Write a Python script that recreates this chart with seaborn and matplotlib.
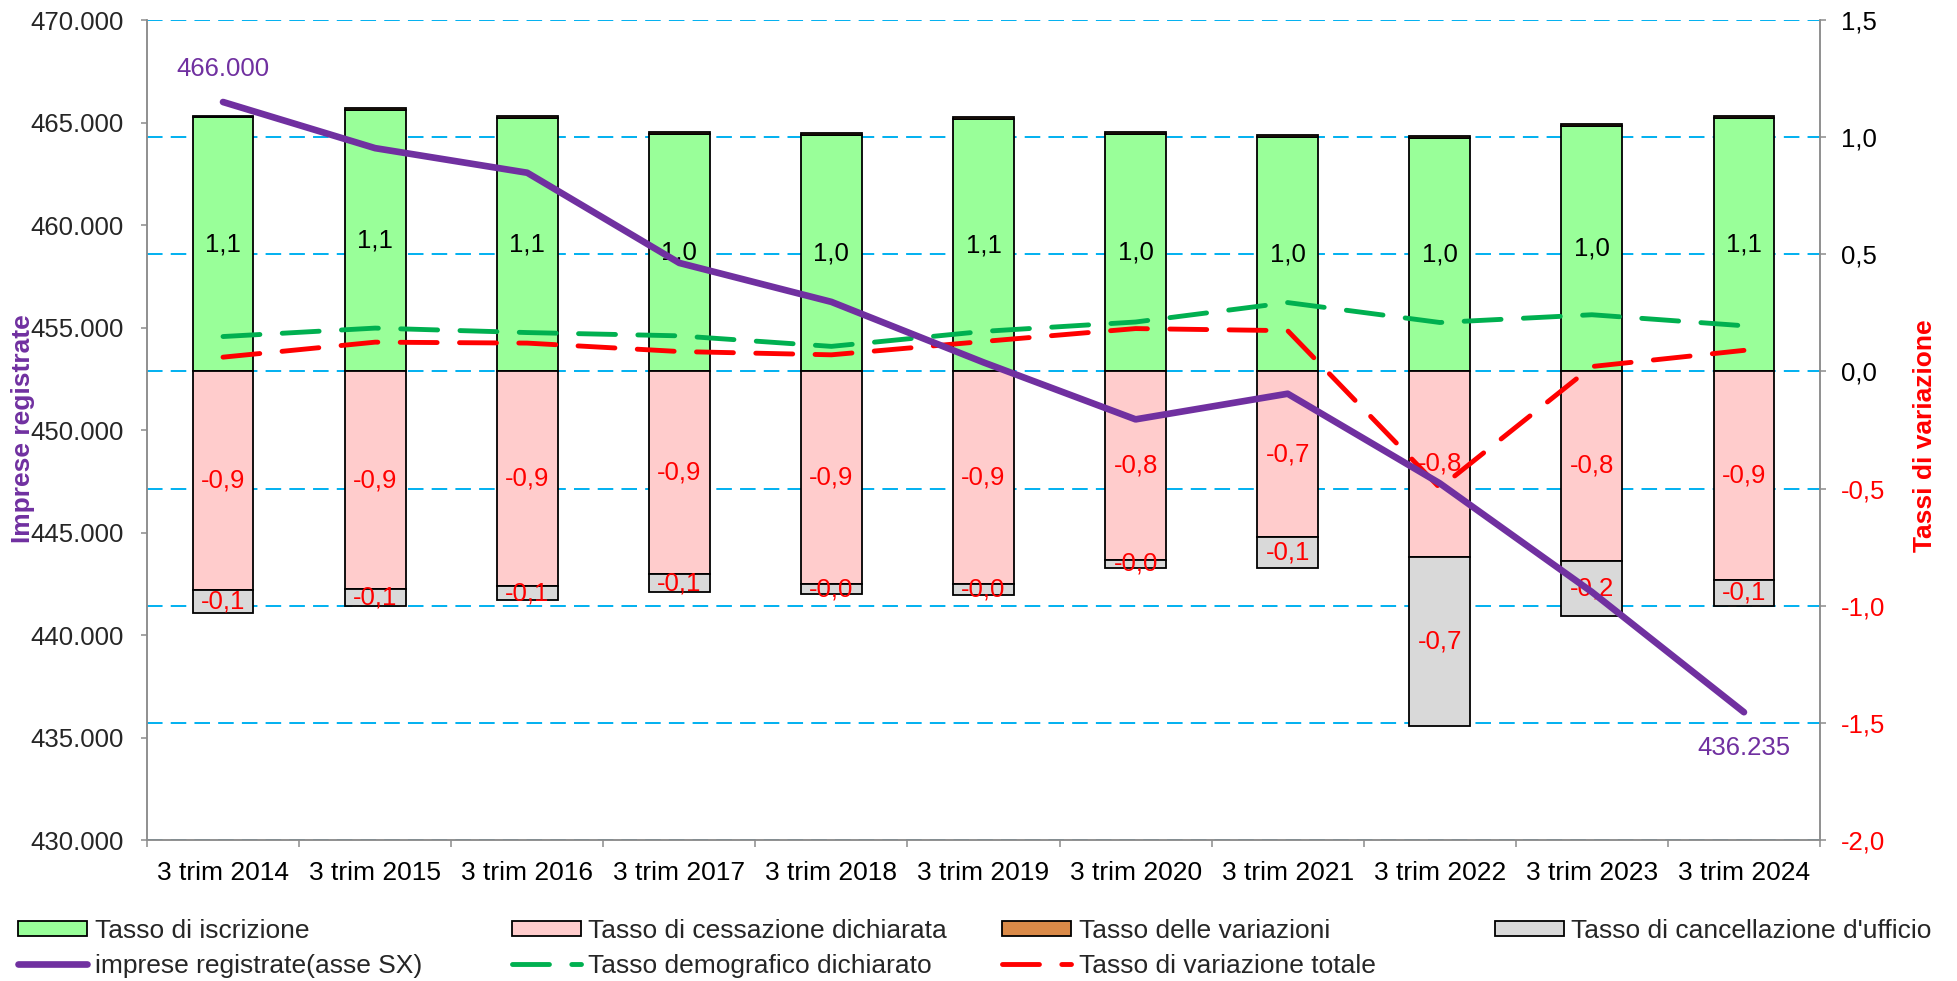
import numpy as np
import pandas as pd
import matplotlib.pyplot as plt
from matplotlib.patches import Patch
from matplotlib.lines import Line2D
import seaborn as sns

# dati
periodi = ["3 trim 2014", "3 trim 2015", "3 trim 2016", "3 trim 2017", "3 trim 2018",
           "3 trim 2019", "3 trim 2020", "3 trim 2021", "3 trim 2022", "3 trim 2023",
           "3 trim 2024"]
tasso_iscrizione = [1.084, 1.115, 1.081, 1.015, 1.009, 1.077, 1.013, 0.999, 0.995, 1.046, 1.080]
tasso_variazioni = [0.007, 0.009, 0.009, 0.007, 0.008, 0.009, 0.007, 0.009, 0.008, 0.010, 0.012]
tasso_cessazione = [-0.931, -0.927, -0.917, -0.865, -0.908, -0.908, -0.804, -0.708, -0.790, -0.807, -0.891]
tasso_cancellazione = [-0.098, -0.075, -0.058, -0.078, -0.044, -0.048, -0.035, -0.131, -0.725, -0.236, -0.109]
tasso_demografico = [0.149, 0.185, 0.166, 0.152, 0.107, 0.171, 0.211, 0.294, 0.209, 0.242, 0.195]
tasso_totale = [0.061, 0.125, 0.121, 0.085, 0.071, 0.128, 0.183, 0.174, -0.497, 0.021, 0.090]
imprese = [466000, 463750, 462550, 458150, 456250, 453300, 450520, 451770, 447400, 442100, 436235]

VERDE = "#99FF99"
ROSA = "#FFCCCC"
ARANCIO = "#DA8A48"
GRIGIO = "#D9D9D9"
VIOLA = "#7030A0"
VERDE_LINEA = "#00B050"
ROSSO = "#FF0000"
AZZURRO = "#00B0F0"
GRIGIO_ASSI = "#8C8C8C"

df = pd.DataFrame({
    "pos": np.arange(len(periodi)),
    "periodo": periodi,
    "iscrizione": tasso_iscrizione,
    "variazioni": tasso_variazioni,
    "cessazione": tasso_cessazione,
    "cancellazione": tasso_cancellazione,
    "demografico": tasso_demografico,
    "totale": tasso_totale,
    "imprese": imprese,
})

sns.set_theme(style="white")
plt.rcParams["font.family"] = ["Liberation Sans", "DejaVu Sans"]

fig = plt.figure(figsize=(19.57, 9.81), dpi=100)
ax = fig.add_axes([0.0751, 0.1437, 0.8549, 0.8359])
ax2 = ax.twinx()

# barre impilate (asse destro)
bar_kw = dict(width=0.4, saturation=1, edgecolor="black", linewidth=1.3, errorbar=None, ax=ax)
sns.barplot(data=df, x="pos", y="iscrizione", color=VERDE, **bar_kw)
sns.barplot(data=df, x="pos", y="variazioni", bottom=df["iscrizione"].to_numpy(), color=ARANCIO, **bar_kw)
sns.barplot(data=df, x="pos", y="cessazione", color=ROSA, **bar_kw)
sns.barplot(data=df, x="pos", y="cancellazione", bottom=df["cessazione"].to_numpy(), color=GRIGIO, **bar_kw)

# linee tratteggiate
tratteggio = (0, (7.6, 4.6))
sns.lineplot(data=df, x="pos", y="demografico", color=VERDE_LINEA, lw=3.5, linestyle=tratteggio,
             dash_capstyle="round", ax=ax, legend=False, zorder=4)
sns.lineplot(data=df, x="pos", y="totale", color=ROSSO, lw=3.5, linestyle=tratteggio,
             dash_capstyle="round", ax=ax, legend=False, zorder=4)

# imprese registrate (asse sinistro)
sns.lineplot(data=df, x="pos", y="imprese", color=VIOLA, lw=4.8, solid_capstyle="round",
             ax=ax2, legend=False)


def virgola(v):
    return f"{v:.1f}".replace(".", ",")


# etichette delle barre
for i in range(len(periodi)):
    ax.text(i, tasso_iscrizione[i] / 2, virgola(tasso_iscrizione[i]), ha="center", va="center",
            fontsize=18.5, color="black", zorder=5)
    ax.text(i, tasso_cessazione[i] / 2, virgola(tasso_cessazione[i]), ha="center", va="center",
            fontsize=18.5, color=ROSSO, zorder=5)
    ax.text(i, tasso_cessazione[i] + tasso_cancellazione[i] / 2, virgola(tasso_cancellazione[i]),
            ha="center", va="center", fontsize=18.5, color=ROSSO, zorder=5)

ax2.annotate(f"{imprese[0]:,.0f}".replace(",", "."), xy=(0, imprese[0]), xytext=(0, 24),
             textcoords="offset points", ha="center", va="center", fontsize=18.5, color=VIOLA)
ax2.annotate(f"{imprese[-1]:,.0f}".replace(",", "."), xy=(len(periodi) - 1, imprese[-1]),
             xytext=(0, -26), textcoords="offset points", ha="center", va="center",
             fontsize=18.5, color=VIOLA)

# assi
ax.set_xlim(-0.5, len(periodi) - 0.5)
ax.set_ylim(-2, 1.5)
ax2.set_ylim(430000, 470000)

ax.set_xlabel("")
ax.set_ylabel("")
ax2.set_xlabel("")
ax2.set_ylabel("")

confini = np.arange(-0.5, len(periodi), 1)
ax.set_xticks(confini, labels=[""] * len(confini))
ax.set_xticks(np.arange(len(periodi)), labels=periodi, minor=True)
ax.tick_params(axis="x", which="major", bottom=True, length=5, width=1.1, color=GRIGIO_ASSI)
ax.tick_params(axis="x", which="minor", bottom=True, length=0, pad=15, labelsize=19, labelcolor="black")

tick_destra = np.arange(-2, 1.51, 0.5)
ax.yaxis.tick_right()
ax.set_yticks(tick_destra, labels=[virgola(v) for v in tick_destra])
ax.tick_params(axis="y", right=True, left=False, labelright=True, labelleft=False,
               length=4.5, width=1.1, color=GRIGIO_ASSI, pad=10.5, labelsize=18.5)
for lab, v in zip(ax.get_yticklabels(), tick_destra):
    lab.set_color(ROSSO if v < 0 else "black")

tick_sinistra = np.arange(430000, 470001, 5000)
ax2.yaxis.tick_left()
ax2.set_yticks(tick_sinistra, labels=[f"{v:,.0f}".replace(",", ".") for v in tick_sinistra])
ax2.tick_params(axis="y", left=True, right=False, labelleft=True, labelright=False,
                length=4.5, width=1.1, color=GRIGIO_ASSI, pad=12, labelsize=18.5)

for a in (ax, ax2):
    a.spines["top"].set_visible(False)
    for s in ("left", "right", "bottom"):
        a.spines[s].set_color(GRIGIO_ASSI)
        a.spines[s].set_linewidth(1.1)

ax.set_axisbelow(True)
ax.yaxis.grid(True, color=AZZURRO, lw=1.4, linestyle=(0, (8.0, 4.2)))
ax.xaxis.grid(False)
ax2.grid(False)

fig.text(0.0118, 0.5627, "Imprese registrate", rotation=90, ha="center", va="center",
         fontsize=19, fontweight="bold", color=VIOLA)
fig.text(0.9836, 0.5556, "Tassi di variazione", rotation=90, ha="center", va="center",
         fontsize=19, fontweight="bold", color=ROSSO)

# legenda su quattro colonne
colonne = [
    [(Patch(facecolor=VERDE, edgecolor="black", lw=1.3), "Tasso di iscrizione"),
     (Line2D([], [], color=VIOLA, lw=4.8, solid_capstyle="round"), "imprese registrate(asse SX)")],
    [(Patch(facecolor=ROSA, edgecolor="black", lw=1.3), "Tasso di cessazione dichiarata"),
     (Line2D([], [], color=VERDE_LINEA, lw=3.5, linestyle=tratteggio, dash_capstyle="round"),
      "Tasso demografico dichiarato")],
    [(Patch(facecolor=ARANCIO, edgecolor="black", lw=1.3), "Tasso delle variazioni"),
     (Line2D([], [], color=ROSSO, lw=3.5, linestyle=tratteggio, dash_capstyle="round"),
      "Tasso di variazione totale")],
    [(Patch(facecolor=GRIGIO, edgecolor="black", lw=1.3), "Tasso di cancellazione d'ufficio")],
]
colonne_x = [0.0092, 0.2616, 0.5120, 0.7639]
for cx, voci in zip(colonne_x, colonne):
    fig.legend(handles=[h for h, _ in voci], labels=[t for _, t in voci], loc="upper left",
               bbox_to_anchor=(cx, 0.063), frameon=False, borderpad=0, borderaxespad=0,
               handlelength=2.6, handleheight=0.5, handletextpad=0.3, labelspacing=0.4,
               fontsize=19)

fig.savefig("out.png", dpi=100)
